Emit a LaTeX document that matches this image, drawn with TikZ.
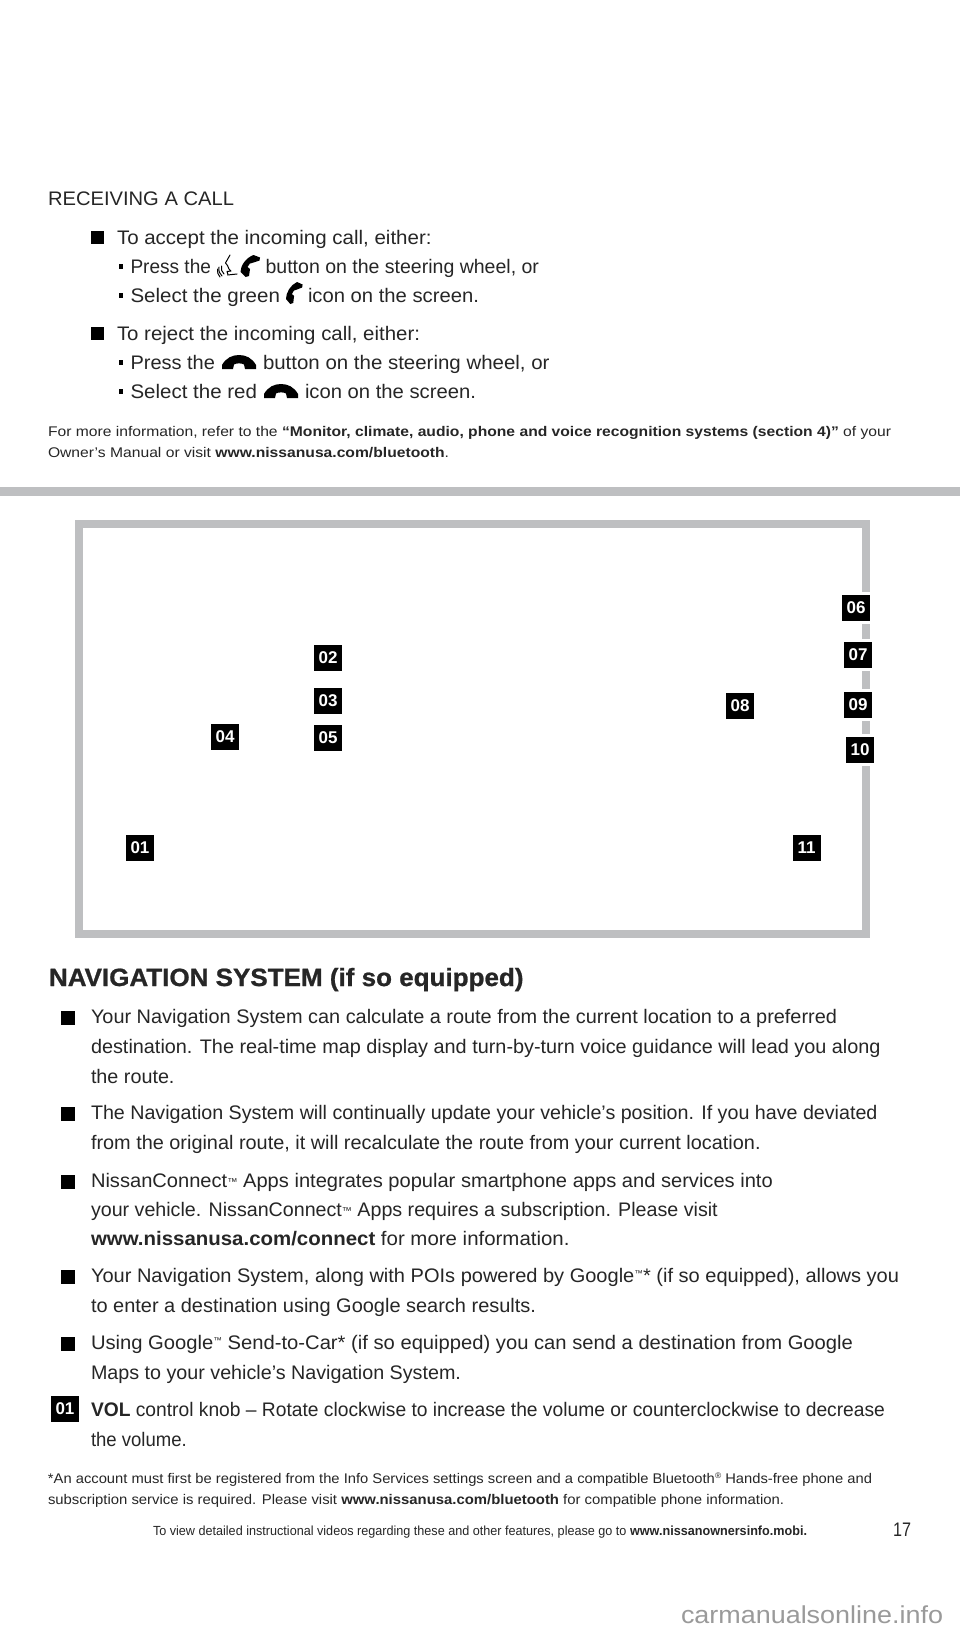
\documentclass[tikz,border=0pt]{standalone}
\usepackage{fontspec}
\usepackage{graphicx}
\setmainfont{Liberation Sans}
\newfontfamily\heavyfam{Liberation Sans}[BoldFeatures={FakeBold=0.9}]
\definecolor{framegray}{HTML}{BEBFC1}
\definecolor{inktext}{HTML}{262626}
\definecolor{markgray}{HTML}{9A9A9A}
\newcommand\bodyfnt{\fontsize{19.6}{20}\selectfont}
\newcommand\smallfnt{\fontsize{14}{15}\selectfont}
\newcommand\tinyfnt{\fontsize{13.2}{14}\selectfont}
\newcommand\headfnt{\heavyfam\bfseries\fontsize{25}{26}\selectfont}
\newcommand\tmsmall{{\fontsize{10}{10}\selectfont\raisebox{1.5pt}{™}}}
\newcommand\tmhigh{{\fontsize{8.5}{8}\selectfont\raisebox{6pt}{™}}}
\newcommand\regsmall{{\fontsize{8}{8}\selectfont\raisebox{5pt}{®}}}
% name, x, baseline y, width, text
\newcommand\lineb[6][\bodyfnt]{\node[txtline,font=#1] (#2) at (#3,#4) {\resizebox{#5pt}{\height}{#6}};}
\newcommand\handset[4]{\fill[black,shift={(#1,#2)},xscale=#3,yscale=#4] (19.5,2.5) -- (13,0) .. controls (5,3) and (0,11) .. (0,17) -- (5,22) -- (8.5,21) -- (9.5,14) -- (7,12) .. controls (8,9) and (10,7.5) .. (13,7.5) -- (19,5.5) -- cycle;}
\newcommand\hangup[2]{\fill[black,shift={(#1,#2)}] (0,14) -- (0,10) .. controls (4,3) and (10,0) .. (17,0) .. controls (24,0) and (30,3) .. (34,10) -- (34,14) -- (23,14) -- (22,9.5) .. controls (20,8) and (14,8) .. (12,9.5) -- (11,14) -- cycle;}
\tikzset{
  txtline/.style={anchor=base west,inner sep=0pt,outer sep=0pt,text=inktext},
  badge/.style={fill=black,text=white,minimum width=28pt,minimum height=26pt,inner sep=0pt,font=\fontsize{17}{17}\bfseries\selectfont},
  framepart/.style={fill=framegray},
  squarebullet/.style={fill=black},
}
\begin{document}
\begin{tikzpicture}[x=1pt,y=-1pt]
\useasboundingbox (0,0) rectangle (960,1632);
\fill[white] (0,0) rectangle (960,1632);

% top text
\lineb{recv}{48}{205}{186}{RECEIVING A CALL}
\fill[squarebullet] (91,231) rectangle (104,244);
\lineb{acc}{117}{244}{314.6}{To accept the incoming call, either:}
\fill[squarebullet] (118.6,264) rectangle (123,268.5);
\lineb{pra}{130.5}{273}{80.5}{Press the}
\begin{scope}[black,line width=1pt,line cap=round,line join=round]
 \draw (230,255) -- (225.5,263) -- (227.5,265.5) -- (229,269) -- (231,271) -- (227,271.5) -- (228,274.5);
 \draw (227.5,275) -- (237,274);
 \draw (219,267) .. controls (218,271) and (220,274) .. (222,276);
 \draw (221.5,266) .. controls (220.5,269) and (222,272) .. (224,274);
 \draw (217.5,269) .. controls (217,272) and (218,275) .. (220,277);
\end{scope}
\handset{240.5}{255}{1}{1}
\lineb{prb}{265.6}{273}{273.4}{button on the steering wheel, or}
\fill[squarebullet] (118.6,293) rectangle (123,297.5);
\lineb{sga}{130.5}{302}{149.5}{Select the green}
\handset{286}{282}{0.85}{1}
\lineb{sgb}{308}{302}{171}{icon on the screen.}
\fill[squarebullet] (91,327) rectangle (104,340);
\lineb{rej}{117}{340}{303}{To reject the incoming call, either:}
\fill[squarebullet] (118.6,360) rectangle (123,364.5);
\lineb{pxa}{130.5}{369}{84.5}{Press the}
\hangup{222}{355}
\lineb{pxb}{263}{369}{286.5}{button on the steering wheel, or}
\fill[squarebullet] (118.6,389) rectangle (123,393.5);
\lineb{sra}{130.5}{398}{126.5}{Select the red}
\hangup{264}{384}
\lineb{srb}{305}{398}{171}{icon on the screen.}
\lineb[\smallfnt]{morea}{48}{436}{843}{For more information, refer to the \textbf{“Monitor, climate, audio, phone and voice recognition systems (section 4)”} of your}
\lineb[\smallfnt]{moreb}{48}{457}{401}{Owner’s Manual or visit \textbf{www.nissanusa.com/bluetooth}.}

\fill[framepart] (0,487) rectangle (960,496);

% frame
\fill[framepart] (75,520) rectangle (870,528);
\fill[framepart] (75,930) rectangle (870,938);
\fill[framepart] (75,528) rectangle (83,930);
\fill[framepart] (862,528) rectangle (870,592);
\fill[framepart] (862,624) rectangle (870,639);
\fill[framepart] (862,671) rectangle (870,689);
\fill[framepart] (862,721) rectangle (870,734);
\fill[framepart] (862,766) rectangle (870,930);

\node[badge] (b01) at (140,848) {01};
\node[badge] (b02) at (328,658) {02};
\node[badge] (b03) at (328,701) {03};
\node[badge] (b04) at (225,737) {04};
\node[badge] (b05) at (328,738) {05};
\node[badge] (b06) at (856,608) {06};
\node[badge] (b07) at (858,655) {07};
\node[badge] (b08) at (740,706) {08};
\node[badge] (b09) at (858,705) {09};
\node[badge] (b10) at (860,750) {10};
\node[badge] (b11) at (806.5,848) {11};

% navigation
\lineb[\headfnt]{head}{49}{986}{474.5}{NAVIGATION SYSTEM (if so equipped)}
\fill[squarebullet] (61,1011) rectangle (74.5,1024.5);
\lineb{n1}{91}{1023}{746}{Your Navigation System can calculate a route from the current location to a preferred}
\lineb{n2}{91}{1053}{789.6}{destination. The real-time map display and turn-by-turn voice guidance will lead you along}
\lineb{n3}{91}{1083}{83.5}{the route.}
\fill[squarebullet] (61,1107) rectangle (74.5,1120.5);
\lineb{n4}{91}{1119}{786.5}{The Navigation System will continually update your vehicle’s position. If you have deviated}
\lineb{n5}{91}{1149}{669.6}{from the original route, it will recalculate the route from your current location.}
\fill[squarebullet] (61,1175) rectangle (74.5,1188.5);
\lineb{n6}{91}{1187}{681.8}{NissanConnect\tmsmall{} Apps integrates popular smartphone apps and services into}
\lineb{n7}{91}{1216}{626.7}{your vehicle. NissanConnect\tmsmall{} Apps requires a subscription. Please visit}
\lineb{n8}{91}{1245}{478.5}{\textbf{www.nissanusa.com/connect} for more information.}
\fill[squarebullet] (61,1270) rectangle (74.5,1283.5);
\lineb{n9}{91}{1282}{808}{Your Navigation System, along with POIs powered by Google\tmhigh* (if so equipped), allows you}
\lineb{n10}{91}{1312}{445}{to enter a destination using Google search results.}
\fill[squarebullet] (61,1337) rectangle (74.5,1350.5);
\lineb{n11}{91}{1349}{762}{Using Google\tmhigh{} Send-to-Car* (if so equipped) you can send a destination from Google}
\lineb{n12}{91}{1379}{370}{Maps to your vehicle’s Navigation System.}
\node[badge] (b01b) at (65,1409) {01};
\lineb{n13}{91}{1416}{794}{\textbf{VOL} control knob – Rotate clockwise to increase the volume or counterclockwise to decrease}
\lineb{n14}{91}{1446}{95.8}{the volume.}
\lineb[\smallfnt]{fn1}{48}{1483}{824}{*An account must first be registered from the Info Services settings screen and a compatible Bluetooth\regsmall{} Hands-free phone and}
\lineb[\smallfnt]{fn2}{48}{1504}{736}{subscription service is required. Please visit \textbf{www.nissanusa.com/bluetooth} for compatible phone information.}
\lineb[\tinyfnt]{foot}{153}{1535}{654}{To view detailed instructional videos regarding these and other features, please go to \textbf{www.nissanownersinfo.mobi.}}
\lineb{pageno}{893}{1536}{18}{17}
\node[txtline,text=markgray,font=\fontsize{24.5}{26}\selectfont] (mark) at (681,1623) {\resizebox{262pt}{\height}{carmanualsonline.info}};
\end{tikzpicture}
\end{document}
